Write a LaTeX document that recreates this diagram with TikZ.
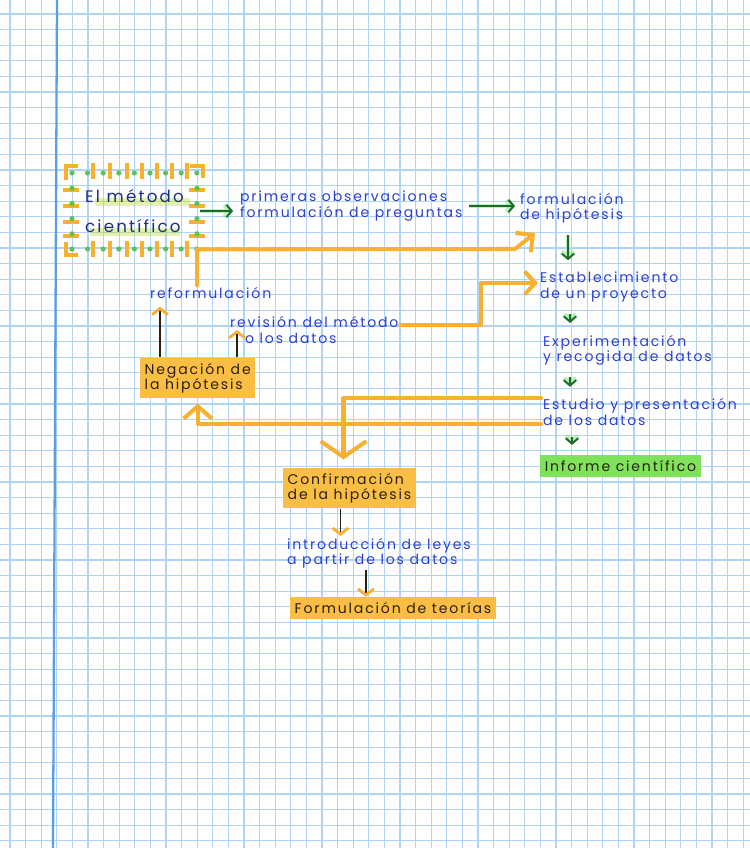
\documentclass[tikz,border=0pt]{standalone}
\usepackage{fontspec}
\newfontfamily\handfont[LetterSpace=13]{Poppins}
\usetikzlibrary{arrows.meta}
\definecolor{gridblue}{HTML}{B0D4F6}
\definecolor{marginblue}{HTML}{5B9EE8}
\definecolor{inkblue}{HTML}{2F3FCF}
\definecolor{inknavy}{HTML}{1F2D8A}
\definecolor{inkdark}{HTML}{2B2010}
\definecolor{hlorange}{HTML}{FBBE45}
\definecolor{hlgreen}{HTML}{7EE35A}
\definecolor{penorange}{HTML}{F8B030}
\definecolor{pengreen}{HTML}{1E6A2A}
\definecolor{glowgreen}{HTML}{6EE36E}
\tikzset{
  gridline/.style={gridblue, line width=0.6pt},
  txt/.style={font=\handfont\fontsize{8}{8.6}\selectfont, text=inkblue, align=left, anchor=west, inner sep=1pt},
  obox/.style={txt, fill=hlorange, text=inkdark, inner xsep=2.5pt, inner ysep=3pt},
  gbox/.style={txt, fill=hlgreen, text=inkdark, inner xsep=2.5pt, inner ysep=3pt},
  mbox/.style={font=\handfont\fontsize{9.5}{17}\selectfont, text=inknavy, align=left, minimum width=2.5cm, minimum height=1.52cm, inner sep=0pt},
  ticks/.style={penorange, line width=2pt},
  dots/.style={fill=glowgreen!85!black},
  garrow/.style={pengreen, line width=1.1pt, shorten <=0.2cm, shorten >=0.2cm, -{Straight Barb[length=3pt,width=7pt]}, preaction={draw=glowgreen, line width=2.8pt, opacity=0.45}},
  oline/.style={penorange, line width=2.3pt, line join=round, line cap=round},
  darrow/.style={inkdark, line width=1.1pt, -{Straight Barb[color=penorange, length=3.5pt, width=9pt, line width=1.6pt]}},
}
\begin{document}
\begin{tikzpicture}[x=0.02cm, y=-0.02cm]
  \useasboundingbox (0,0) rectangle (750,848);
  \fill[white] (0,0) rectangle (750,848);
  \foreach \k in {0,...,47} \draw[gridline] ({10+15.6*\k},0) -- ({10+15.6*\k},848);
  \foreach \k in {0,...,53} \draw[gridline] (0,{14+15.6*\k}) -- (750,{14+15.6*\k});
  \draw[marginblue, line width=1.3pt] (57,0) -- (53,848);

  \fill[yellow!70!green, opacity=0.35] (95,198) rectangle (190,206);
  \fill[yellow!70!green, opacity=0.35] (90,228) rectangle (180,236);
  \node[mbox] (metodo) at (134.5,211) {El método\\científico};
  \foreach \x in {93,110,127,142,157,172,187} {
    \draw[ticks] (\x,163) -- (\x,179);
    \draw[ticks] (\x,241) -- (\x,257);
  }
  \foreach \y in {190,206,222,236} {
    \draw[ticks] (63,\y) -- (79,\y);
    \draw[ticks] (189,\y) -- (205,\y);
  }
  \draw[ticks] (66,180) -- (66,166) -- (78,166);
  \draw[ticks] (190,166) -- (203,166) -- (203,178);
  \draw[ticks] (66,242) -- (66,255) -- (78,255);
  \foreach \x in {72,87.6,...,197} {
    \fill[dots] (\x,173) circle (2.6);
    \fill[dots] (\x,249) circle (2.6);
  }
  \foreach \y in {188.2,203.4,...,240} {
    \fill[dots] (72,\y) circle (2.6);
    \fill[dots] (197,\y) circle (2.6);
  }

  \node[txt] (obs) at (238,206) {primeras observaciones\\formulación de preguntas};
  \node[txt] (hip) at (518,208) {formulación\\de hipótesis};
  \node[txt] (proy) at (538,287) {Establecimiento\\de un proyecto};
  \node[txt] (exp) at (541,350) {Experimentación\\y recogida de datos};
  \node[txt] (est) at (541,412) {Estudio y presentación\\de los datos};
  \node[gbox] (inf) at (540,466) {Informe científico};
  \node[txt] (refo) at (148,293) {reformulación};
  \node[txt] (rev) at (228,330) {revisión del método\\\hspace{0.3cm}o los datos};
  \node[obox] (neg) at (140,378) {Negación de\\la hipótesis};
  \node[obox] (conf) at (283,488) {Confirmación\\de la hipótesis};
  \node[txt] (ley) at (285,553) {introducción de leyes\\a partir de los datos};
  \node[obox] (teo) at (290,608) {Formulación de teorías};

  \draw[garrow, shorten <=0.06cm, shorten >=0.1cm] (metodo.east) -- (metodo.east -| obs.west);
  \draw[garrow, shorten <=0.1cm, shorten >=0.06cm] (obs.east) -- (obs.east -| hip.west);
  \draw[garrow] ([xshift=1cm]hip.south west) -- ([xshift=1cm]hip.south west |- proy.north);
  \draw[garrow] ([xshift=0.64cm]proy.south west) -- ([xshift=0.64cm]proy.south west |- exp.north);
  \draw[garrow] ([xshift=0.58cm]exp.south west) -- ([xshift=0.58cm]exp.south west |- est.north);
  \draw[garrow] ([xshift=0.62cm]est.south west) -- ([xshift=0.62cm]est.south west |- inf.north);

  \draw[oline, -{Straight Barb[length=7pt, width=14pt]}] (metodo.south east) -- (515,249) -- ([xshift=0.34cm, yshift=-0.16cm]hip.south west);
  \draw[oline] (metodo.south east) -- (metodo.south east |- refo.north);
  \draw[oline, -{Straight Barb[length=6pt, width=13pt]}] ([yshift=-0.2cm]rev.north east) -- ++(80,0) |- ([yshift=0.08cm]proy.west);
  \draw[oline, -{Straight Barb[length=9pt, width=26pt]}] ([yshift=0.28cm]est.west) -| ([xshift=-0.12cm, yshift=0.16cm]conf.north);
  \draw[oline, -{Straight Barb[length=7pt, width=16pt]}] ([yshift=-0.24cm]est.west) -| ([yshift=-0.1cm]neg.south);

  \draw[darrow] ([xshift=0.4cm]neg.north west) -- ([xshift=0.4cm, yshift=-0.12cm]neg.north west |- refo.south);
  \draw[darrow] ([xshift=1.94cm]neg.north west) -- ([xshift=1.94cm]neg.north west |- rev.west);
  \draw[darrow] ([xshift=-0.18cm]conf.south) -- ([xshift=-0.18cm]conf.south |- ley.north);
  \draw[darrow] ([xshift=-0.26cm]ley.south) -- ([xshift=-0.26cm]ley.south |- teo.north);
\end{tikzpicture}
\end{document}
